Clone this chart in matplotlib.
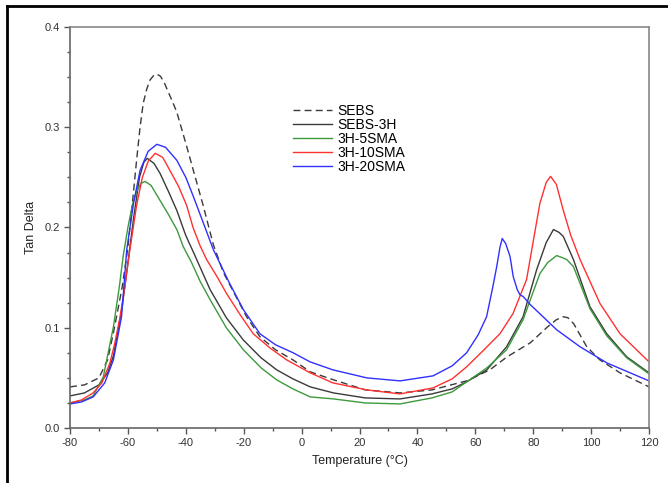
import numpy as np
import matplotlib
matplotlib.use("Agg")
import matplotlib.pyplot as plt
from matplotlib.lines import Line2D
from matplotlib.ticker import MultipleLocator

plt.rcParams["font.family"] = ["Liberation Sans", "DejaVu Sans"]
plt.rcParams["axes.unicode_minus"] = False

# ---- data (temperature °C, tan delta) ----
sebs_t = [-80, -75, -70, -67, -65, -62, -60, -58.7, -57, -55.8, -54.7, -53.5, -52.4, -51, -50,
          -48.8, -47.5, -46.2, -44.8, -43.1, -41.5, -39.7, -37.4, -34, -30.5, -27, -23, -19,
          -14.4, -9, -3, 3, 10, 22, 34, 45, 57, 65, 71, 79, 85, 88, 90.3, 92, 94, 98.5, 103,
          110, 120]
sebs_v = [0.041, 0.043, 0.050, 0.068, 0.095, 0.140, 0.180, 0.217, 0.267, 0.300, 0.324, 0.338,
          0.347, 0.352, 0.353, 0.351, 0.345, 0.336, 0.327, 0.315, 0.299, 0.281, 0.257, 0.222,
          0.183, 0.155, 0.133, 0.111, 0.091, 0.078, 0.068, 0.056, 0.049, 0.038, 0.035, 0.038,
          0.047, 0.058, 0.071, 0.085, 0.101, 0.108, 0.111, 0.110, 0.104, 0.081, 0.068, 0.055,
          0.041]

s3h_t = [-80, -75, -70, -67, -65, -62, -60, -58, -56, -54.5, -53.3, -51, -48.9, -46, -43.1, -40,
         -37, -35, -31.6, -26, -20.2, -14, -8.6, -3, 3, 11, 22, 34, 45, 52, 57, 64, 70.8, 76.5,
         81.2, 84.5, 87, 89, 90.4, 93.9, 99.6, 105.4, 112.3, 120]
s3h_v = [0.032, 0.035, 0.043, 0.055, 0.072, 0.120, 0.165, 0.210, 0.250, 0.265, 0.269, 0.264,
         0.254, 0.236, 0.217, 0.192, 0.173, 0.160, 0.138, 0.110, 0.088, 0.070, 0.058, 0.049,
         0.041, 0.035, 0.030, 0.029, 0.034, 0.039, 0.046, 0.058, 0.081, 0.111, 0.158, 0.185,
         0.198, 0.195, 0.191, 0.168, 0.121, 0.094, 0.071, 0.055]

s5_t = [-80, -75, -72, -68.5, -65, -63, -61.6, -60, -58.5, -57, -55.5, -54.1, -52, -48.9, -46,
        -43.1, -40.9, -38, -35, -31.6, -26, -20.1, -14, -8.6, -3, 3, 11, 22, 34, 45, 52, 57, 64,
        70.8, 76.5, 82.3, 85, 88.1, 90, 91.6, 93.9, 99.6, 105.4, 112.3, 120]
s5_v = [0.025, 0.028, 0.032, 0.051, 0.101, 0.140, 0.172, 0.200, 0.222, 0.236, 0.244, 0.246,
        0.242, 0.227, 0.213, 0.198, 0.181, 0.165, 0.146, 0.128, 0.100, 0.078, 0.060, 0.048,
        0.039, 0.031, 0.029, 0.025, 0.024, 0.030, 0.036, 0.046, 0.060, 0.078, 0.108, 0.154,
        0.165, 0.172, 0.170, 0.168, 0.161, 0.119, 0.092, 0.070, 0.054]

s10_t = [-80, -76, -72, -69, -66.2, -64.5, -62.7, -61, -59.3, -57, -55, -53, -50.6, -48, -45.5,
         -42.5, -39.7, -37.5, -35.1, -32.8, -29, -25.9, -21, -16.7, -11, -5.2, 3, 10.8, 22.5,
         34, 45.4, 52, 57, 63, 68.5, 73, 77.7, 80, 82.3, 84.5, 86, 88, 90.4, 93, 96.2, 103.1,
         110, 120]
s10_v = [0.025, 0.028, 0.035, 0.045, 0.065, 0.085, 0.111, 0.142, 0.178, 0.222, 0.250, 0.266,
         0.274, 0.270, 0.257, 0.241, 0.222, 0.200, 0.182, 0.168, 0.150, 0.134, 0.112, 0.094,
         0.080, 0.068, 0.055, 0.045, 0.038, 0.034, 0.040, 0.049, 0.061, 0.078, 0.094, 0.114,
         0.148, 0.186, 0.224, 0.245, 0.251, 0.243, 0.217, 0.192, 0.168, 0.124, 0.094, 0.066]

s20_t = [-80, -76, -72, -68, -65, -62.2, -60.4, -58, -55.8, -53, -50, -47, -43.1, -40, -37.4, -34,
         -30.5, -25, -20.1, -14.4, -9, -2.9, 2.9, 10.8, 22.5, 34, 45.4, 52, 57, 61, 63.9, 66,
         67.4, 68.5, 69.3, 70.5, 72, 73.1, 74.5, 75.4, 76.6, 79, 82.3, 88.1, 96.2, 105.4, 120]
s20_v = [0.024, 0.026, 0.031, 0.045, 0.068, 0.111, 0.178, 0.225, 0.257, 0.276, 0.283, 0.280,
         0.267, 0.250, 0.231, 0.205, 0.178, 0.145, 0.118, 0.094, 0.083, 0.075, 0.066, 0.058,
         0.050, 0.047, 0.052, 0.062, 0.075, 0.093, 0.111, 0.140, 0.161, 0.180, 0.189, 0.184,
         0.171, 0.151, 0.138, 0.133, 0.131, 0.123, 0.114, 0.098, 0.081, 0.065, 0.047]

labels = ["SEBS", "SEBS-3H", "3H-5SMA", "3H-10SMA", "3H-20SMA"]

# ---- plot ----
fig = plt.figure(figsize=(6.68, 4.83), dpi=100)
ax = fig.add_axes([70/668, 1-428/483, (649-70)/668, (428-27)/483])

lw = 1.0
ax.plot(sebs_t, sebs_v, "--", c="#3a3a3a", lw=lw, dashes=(5, 3), label=labels[0])
ax.plot(s3h_t, s3h_v, c="#3a3a3a", lw=lw, label=labels[1])
ax.plot(s5_t, s5_v, c="#3c9a3c", lw=lw, label=labels[2])
ax.plot(s10_t, s10_v, c="#ff3030", lw=lw, label=labels[3])
ax.plot(s20_t, s20_v, c="#3030ff", lw=lw, label=labels[4])

ax.set_xlim(-80, 120); ax.set_ylim(0, 0.4)
ax.xaxis.set_major_locator(MultipleLocator(20)); ax.xaxis.set_minor_locator(MultipleLocator(10))
ax.yaxis.set_major_locator(MultipleLocator(0.1)); ax.yaxis.set_minor_locator(MultipleLocator(0.025))
ax.yaxis.set_major_formatter(plt.FormatStrFormatter("%.1f"))
ax.tick_params(which="both", direction="out", colors="#555555", labelcolor="#333333", labelsize=8)
ax.tick_params(which="major", length=4, width=1)
ax.tick_params(which="minor", length=2.5, width=1)
for s in ["left", "bottom"]:
    ax.spines[s].set_color("#666666"); ax.spines[s].set_linewidth(1.2)
for s in ["top", "right"]:
    ax.spines[s].set_color("#888888"); ax.spines[s].set_linewidth(1.2)

ax.set_xlabel("Temperature (°C)", fontsize=9, color="#222222", labelpad=5)
ax.set_ylabel("Tan Delta", fontsize=9, color="#222222", labelpad=5)

ax.legend(loc="upper left", bbox_to_anchor=(293/668, 1-104/483), bbox_transform=fig.transFigure,
          frameon=False, fontsize=10, handlelength=2.8, handletextpad=0.4, labelspacing=0.0,
          borderpad=0, borderaxespad=0)

# outer frame (top and left edges visible in the reference)
fig.add_artist(Line2D([7/668, 7/668], [0, 1-6/483], transform=fig.transFigure, c="black", lw=2))
fig.add_artist(Line2D([7/668, 1], [1-6/483, 1-6/483], transform=fig.transFigure, c="black", lw=2))

fig.savefig("out.png", dpi=100)
